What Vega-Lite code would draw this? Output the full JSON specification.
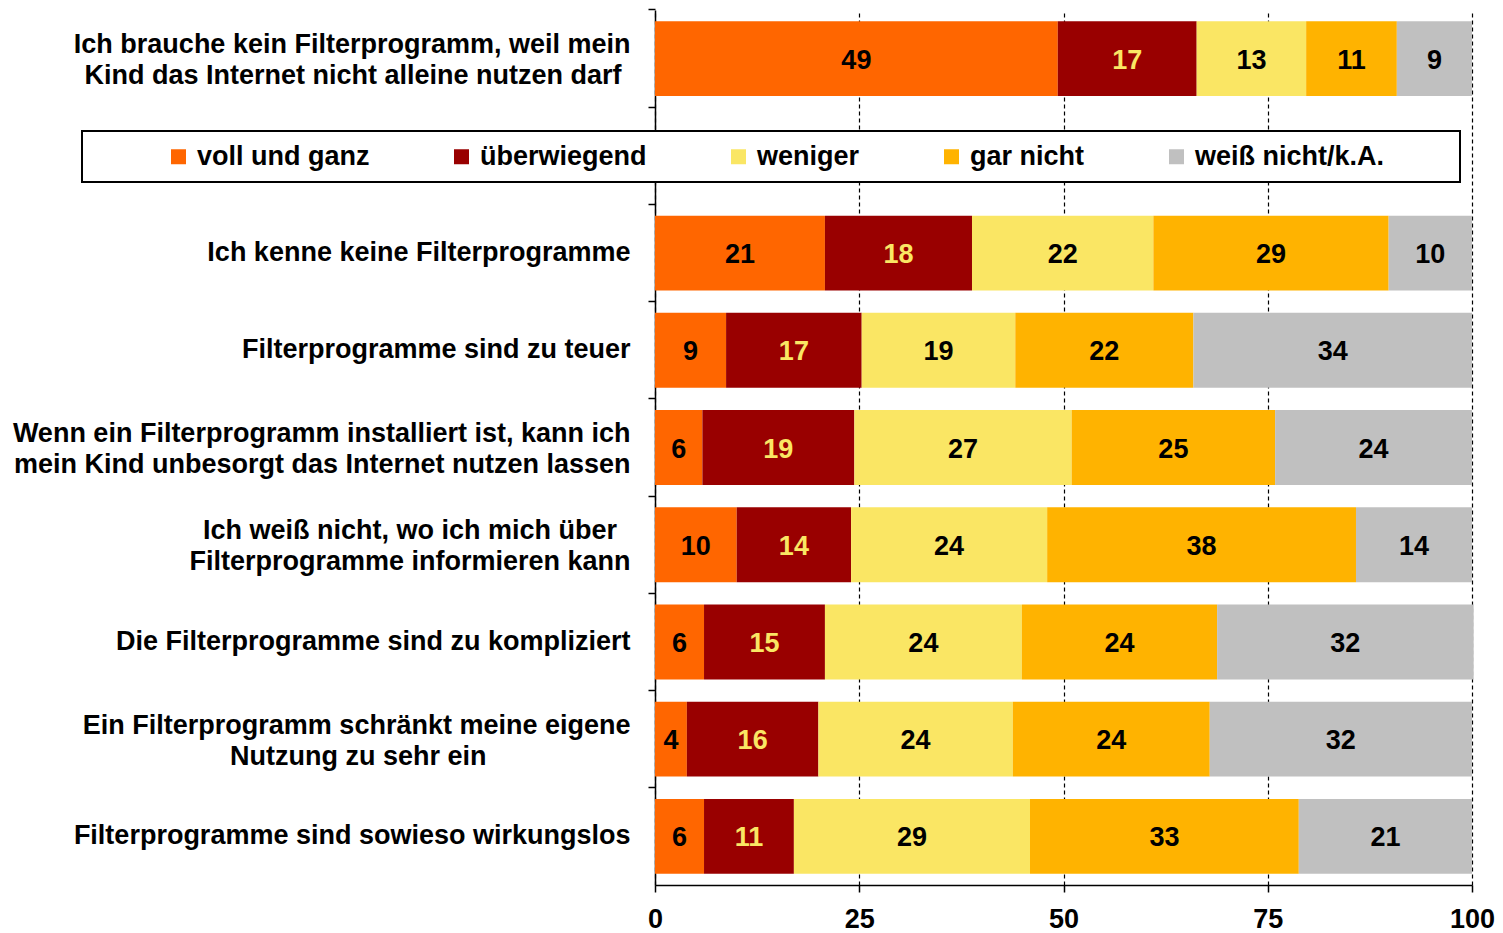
{
  "$schema": "https://vega.github.io/schema/vega-lite/v6.json",
  "width": 817,
  "height": 875,
  "autosize": {"type": "none"},
  "padding": {"left": 655, "top": 10, "right": 31, "bottom": 48},
  "background": "white",
  "config": {"view": {"stroke": null}, "font": "Liberation Sans", "legend": {"strokeWidth": 2}},
  "data": {
    "values": [
      {"q": "Ich brauche kein Filterprogramm, weil mein|Kind das Internet nicht alleine nutzen darf", "cat": "voll und ganz", "o": 1, "v": 49.3, "n": 49},
      {"q": "Ich brauche kein Filterprogramm, weil mein|Kind das Internet nicht alleine nutzen darf", "cat": "überwiegend", "o": 2, "v": 17.0, "n": 17},
      {"q": "Ich brauche kein Filterprogramm, weil mein|Kind das Internet nicht alleine nutzen darf", "cat": "weniger", "o": 3, "v": 13.4, "n": 13},
      {"q": "Ich brauche kein Filterprogramm, weil mein|Kind das Internet nicht alleine nutzen darf", "cat": "gar nicht", "o": 4, "v": 11.1, "n": 11},
      {"q": "Ich brauche kein Filterprogramm, weil mein|Kind das Internet nicht alleine nutzen darf", "cat": "weiß nicht/k.A.", "o": 5, "v": 9.2, "n": 9},
      {"q": "Ich kenne keine Filterprogramme", "cat": "voll und ganz", "o": 1, "v": 20.8, "n": 21},
      {"q": "Ich kenne keine Filterprogramme", "cat": "überwiegend", "o": 2, "v": 18.0, "n": 18},
      {"q": "Ich kenne keine Filterprogramme", "cat": "weniger", "o": 3, "v": 22.2, "n": 22},
      {"q": "Ich kenne keine Filterprogramme", "cat": "gar nicht", "o": 4, "v": 28.8, "n": 29},
      {"q": "Ich kenne keine Filterprogramme", "cat": "weiß nicht/k.A.", "o": 5, "v": 10.2, "n": 10},
      {"q": "Filterprogramme sind zu teuer", "cat": "voll und ganz", "o": 1, "v": 8.7, "n": 9},
      {"q": "Filterprogramme sind zu teuer", "cat": "überwiegend", "o": 2, "v": 16.6, "n": 17},
      {"q": "Filterprogramme sind zu teuer", "cat": "weniger", "o": 3, "v": 18.8, "n": 19},
      {"q": "Filterprogramme sind zu teuer", "cat": "gar nicht", "o": 4, "v": 21.8, "n": 22},
      {"q": "Filterprogramme sind zu teuer", "cat": "weiß nicht/k.A.", "o": 5, "v": 34.1, "n": 34},
      {"q": "Wenn ein Filterprogramm installiert ist, kann ich|mein Kind unbesorgt das Internet nutzen lassen", "cat": "voll und ganz", "o": 1, "v": 5.8, "n": 6},
      {"q": "Wenn ein Filterprogramm installiert ist, kann ich|mein Kind unbesorgt das Internet nutzen lassen", "cat": "überwiegend", "o": 2, "v": 18.6, "n": 19},
      {"q": "Wenn ein Filterprogramm installiert ist, kann ich|mein Kind unbesorgt das Internet nutzen lassen", "cat": "weniger", "o": 3, "v": 26.6, "n": 27},
      {"q": "Wenn ein Filterprogramm installiert ist, kann ich|mein Kind unbesorgt das Internet nutzen lassen", "cat": "gar nicht", "o": 4, "v": 24.9, "n": 25},
      {"q": "Wenn ein Filterprogramm installiert ist, kann ich|mein Kind unbesorgt das Internet nutzen lassen", "cat": "weiß nicht/k.A.", "o": 5, "v": 24.1, "n": 24},
      {"q": "Ich weiß nicht, wo ich mich über|Filterprogramme informieren kann", "cat": "voll und ganz", "o": 1, "v": 10.0, "n": 10},
      {"q": "Ich weiß nicht, wo ich mich über|Filterprogramme informieren kann", "cat": "überwiegend", "o": 2, "v": 14.0, "n": 14},
      {"q": "Ich weiß nicht, wo ich mich über|Filterprogramme informieren kann", "cat": "weniger", "o": 3, "v": 24.0, "n": 24},
      {"q": "Ich weiß nicht, wo ich mich über|Filterprogramme informieren kann", "cat": "gar nicht", "o": 4, "v": 37.8, "n": 38},
      {"q": "Ich weiß nicht, wo ich mich über|Filterprogramme informieren kann", "cat": "weiß nicht/k.A.", "o": 5, "v": 14.2, "n": 14},
      {"q": "Die Filterprogramme sind zu kompliziert", "cat": "voll und ganz", "o": 1, "v": 6.0, "n": 6},
      {"q": "Die Filterprogramme sind zu kompliziert", "cat": "überwiegend", "o": 2, "v": 14.8, "n": 15},
      {"q": "Die Filterprogramme sind zu kompliziert", "cat": "weniger", "o": 3, "v": 24.1, "n": 24},
      {"q": "Die Filterprogramme sind zu kompliziert", "cat": "gar nicht", "o": 4, "v": 23.9, "n": 24},
      {"q": "Die Filterprogramme sind zu kompliziert", "cat": "weiß nicht/k.A.", "o": 5, "v": 31.4, "n": 32},
      {"q": "Ein Filterprogramm schränkt meine eigene|Nutzung zu sehr ein", "cat": "voll und ganz", "o": 1, "v": 3.9, "n": 4},
      {"q": "Ein Filterprogramm schränkt meine eigene|Nutzung zu sehr ein", "cat": "überwiegend", "o": 2, "v": 16.1, "n": 16},
      {"q": "Ein Filterprogramm schränkt meine eigene|Nutzung zu sehr ein", "cat": "weniger", "o": 3, "v": 23.8, "n": 24},
      {"q": "Ein Filterprogramm schränkt meine eigene|Nutzung zu sehr ein", "cat": "gar nicht", "o": 4, "v": 24.1, "n": 24},
      {"q": "Ein Filterprogramm schränkt meine eigene|Nutzung zu sehr ein", "cat": "weiß nicht/k.A.", "o": 5, "v": 32.1, "n": 32},
      {"q": "Filterprogramme sind sowieso wirkungslos", "cat": "voll und ganz", "o": 1, "v": 6.0, "n": 6},
      {"q": "Filterprogramme sind sowieso wirkungslos", "cat": "überwiegend", "o": 2, "v": 11.0, "n": 11},
      {"q": "Filterprogramme sind sowieso wirkungslos", "cat": "weniger", "o": 3, "v": 28.9, "n": 29},
      {"q": "Filterprogramme sind sowieso wirkungslos", "cat": "gar nicht", "o": 4, "v": 32.9, "n": 33},
      {"q": "Filterprogramme sind sowieso wirkungslos", "cat": "weiß nicht/k.A.", "o": 5, "v": 21.2, "n": 21}
    ]
  },
  "transform": [
    {"stack": "v", "groupby": ["q"], "sort": [{"field": "o"}], "as": ["x0", "x1"]},
    {"calculate": "(datum.x0 + datum.x1) / 2", "as": "xm"}
  ],
  "encoding": {
    "y": {
      "field": "q",
      "type": "nominal",
      "sort": null,
      "scale": {
        "domain": [
          "Ich brauche kein Filterprogramm, weil mein|Kind das Internet nicht alleine nutzen darf",
          " ",
          "Ich kenne keine Filterprogramme",
          "Filterprogramme sind zu teuer",
          "Wenn ein Filterprogramm installiert ist, kann ich|mein Kind unbesorgt das Internet nutzen lassen",
          "Ich weiß nicht, wo ich mich über|Filterprogramme informieren kann",
          "Die Filterprogramme sind zu kompliziert",
          "Ein Filterprogramm schränkt meine eigene|Nutzung zu sehr ein",
          "Filterprogramme sind sowieso wirkungslos"
        ],
        "paddingInner": 0.23,
        "paddingOuter": 0.115
      },
      "axis": {
        "title": null,
        "labelExpr": "split(replace(replace(replace(datum.label, '|Nutzung zu sehr ein', '|Nutzung zu sehr ein\u2003\u2003\u2003\u2003\u2003\u2004\u200B'), ' über|', ' über\u2002\u200B|'), 'nutzen darf', 'nutzen darf\u2004\u200B'), '|')",
        "labelFont": "Liberation Sans",
        "labelFontSize": 27,
        "labelFontWeight": "bold",
        "labelColor": "black",
        "labelLimit": 800,
        "labelLineHeight": 31,
        "labelPadding": 18,
        "labelOffset": {"condition": {"test": "indexof(datum.value, '|') >= 0", "value": -13.5}, "value": 0},
        "tickSize": 7,
        "tickColor": "black",
        "tickWidth": 1.5,
        "domainColor": "black",
        "domainWidth": 1.5,
        "bandPosition": -0.15,
        "grid": false
      }
    }
  },
  "layer": [
    {
      "mark": {"type": "bar"},
      "encoding": {
        "x": {
          "field": "x0",
          "type": "quantitative",
          "scale": {"domain": [0, 100], "nice": false},
          "axis": {
            "title": null,
            "values": [0, 25, 50, 75, 100],
            "grid": true,
            "gridColor": "black",
            "gridDash": [4, 3],
            "gridWidth": 1.2,
            "gridOpacity": 1,
            "tickSize": 7,
            "tickColor": "black",
            "tickWidth": 1.5,
            "domainColor": "black",
            "domainWidth": 1.5,
            "labelFont": "Liberation Sans",
            "labelFontSize": 27,
            "labelFontWeight": "bold",
            "labelColor": "black",
            "labelPadding": 14,
            "labelFlush": false
          }
        },
        "x2": {"field": "x1"},
        "color": {
          "field": "cat",
          "type": "nominal",
          "scale": {
            "domain": ["voll und ganz", "überwiegend", "weniger", "gar nicht", "weiß nicht/k.A."],
            "range": ["#FF6600", "#990000", "#FAE664", "#FFB300", "#C0C0C0"]
          },
          "legend": {
            "orient": "none",
            "legendX": -573,
            "legendY": 121,
            "direction": "horizontal",
            "columns": 5,
            "title": "\u200B\u2003\u2003\u2002\u200B",
            "titleOrient": "left",
            "titleFont": "Liberation Sans",
            "titleFontSize": 27,
            "titlePadding": 3,
            "symbolType": "square",
            "symbolSize": 225,
            "symbolStrokeWidth": 0,
            "symbolOpacity": 1,
            "labelFont": "Liberation Sans",
            "labelFontSize": 27,
            "labelFontWeight": "bold",
            "labelColor": "black",
            "labelOffset": 5,
            "labelLimit": 500,
            "labelExpr": "datum.label == 'weiß nicht/k.A.' ? datum.label + '\u2003\u2003\u2004\u200B' : datum.label",
            "columnPadding": 78,
            "padding": 12,
            "strokeColor": "black",
            "fillColor": "white"
          }
        }
      }
    },
    {
      "mark": {"type": "text", "font": "Liberation Sans", "fontSize": 27, "fontWeight": "bold", "align": "center", "baseline": "middle", "dy": 2},
      "encoding": {
        "x": {"field": "xm", "type": "quantitative"},
        "text": {"field": "n"},
        "color": {"condition": {"test": "datum.cat == 'überwiegend'", "value": "#FAE664"}, "value": "black"}
      }
    }
  ]
}
